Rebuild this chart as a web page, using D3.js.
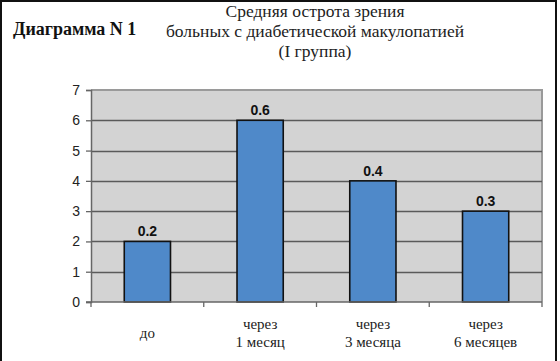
<!DOCTYPE html>
<html>
<head>
<meta charset="utf-8">
<script src="https://cdn.jsdelivr.net/npm/d3@7"></script>
<style>
  body { margin: 0; background: #fff; }
  svg { display: block; }
</style>
</head>
<body>
<div id="chart"></div>
<script>
var categories = [["до"], ["через", "1 месяц"], ["через", "3 месяца"], ["через", "6 месяцев"]];
var values = [2, 6, 4, 3];
var valueLabels = ["0.2", "0.6", "0.4", "0.3"];
var yTicks = [0, 1, 2, 3, 4, 5, 6, 7];
var titleLines = ["Средняя острота зрения", "больных с диабетической макулопатией", "(I группа)"];
var chartLabel = "Диаграмма N 1";

var SERIF = "Liberation Serif";
var SANS = "Liberation Sans";

var W = 560, H = 361;
var margin = { top: 90, right: 18, bottom: 59, left: 91 };
var width = W - margin.left - margin.right,
    height = H - margin.top - margin.bottom;

var svg = d3.select("#chart").append("svg")
    .attr("width", W)
    .attr("height", H);

// frame of the picture
svg.append("path")
    .attr("d", "M1,361 V1 H556 V361")
    .attr("fill", "none")
    .attr("stroke", "#111")
    .attr("stroke-width", 2);

svg.append("text")
    .attr("x", 13).attr("y", 35)
    .attr("font-family", SERIF)
    .attr("font-weight", "bold")
    .attr("font-size", 18)
    .attr("fill", "#111")
    .text(chartLabel);

svg.selectAll(".title")
    .data(titleLines)
    .enter().append("text")
    .attr("class", "title")
    .attr("x", 315)
    .attr("y", function (d, i) { return 17 + i * 20; })
    .attr("text-anchor", "middle")
    .attr("font-family", SERIF)
    .attr("font-size", 17.5)
    .attr("fill", "#222")
    .text(function (d) { return d; });

var g = svg.append("g").attr("transform", "translate(" + margin.left + "," + margin.top + ")");

var x = d3.scaleBand()
    .domain(d3.range(categories.length))
    .range([0, width])
    .paddingInner(0.59)
    .paddingOuter(0.295);

var y = d3.scaleLinear().domain([0, 7]).range([height, 0]);

// plot background
g.append("rect")
    .attr("width", width).attr("height", height)
    .attr("fill", "#d3d3d3");

g.append("path")
    .attr("d", "M0,0 H" + width + " V" + height)
    .attr("fill", "none")
    .attr("stroke", "#9a9a9a")
    .attr("stroke-width", 2);

// grid
g.selectAll(".grid")
    .data(yTicks.filter(function (d) { return d > 0 && d < 7; }))
    .enter().append("line")
    .attr("x1", 0).attr("x2", width)
    .attr("y1", function (d) { return Math.round(y(d)) + 0.5; })
    .attr("y2", function (d) { return Math.round(y(d)) + 0.5; })
    .attr("stroke", "#5a5a5a")
    .attr("stroke-width", 1.3);

// bars
g.selectAll(".bar")
    .data(values)
    .enter().append("rect")
    .attr("x", function (d, i) { return x(i); })
    .attr("y", function (d) { return y(d); })
    .attr("width", x.bandwidth())
    .attr("height", function (d) { return height - y(d); })
    .attr("fill", "#4f89c9")
    .attr("stroke", "#111")
    .attr("stroke-width", 1.6);

g.selectAll(".vlabel")
    .data(values)
    .enter().append("text")
    .attr("x", function (d, i) { return x(i) + x.bandwidth() / 2; })
    .attr("y", function (d) { return y(d) - 5; })
    .attr("text-anchor", "middle")
    .attr("font-family", SANS)
    .attr("font-weight", "bold")
    .attr("font-size", 14)
    .attr("fill", "#111")
    .text(function (d, i) { return valueLabels[i]; });

// y axis
var yAxis = g.append("g")
    .call(d3.axisLeft(y).tickValues(yTicks).tickSize(5).tickPadding(6).tickFormat(d3.format("d")))
    .attr("font-family", SANS)
    .attr("font-size", 14);
yAxis.select(".domain").attr("stroke", "#666").attr("stroke-width", 1.5);
yAxis.selectAll(".tick line").attr("stroke", "#666").attr("stroke-width", 1.3);
yAxis.selectAll("text").attr("fill", "#222");

// x axis
var step = width / categories.length;
var xAxis = g.append("g").attr("transform", "translate(0," + height + ")");
xAxis.append("line")
    .attr("x1", -5).attr("x2", width)
    .attr("stroke", "#666").attr("stroke-width", 1.5);
xAxis.selectAll(".xt")
    .data(d3.range(categories.length + 1))
    .enter().append("line")
    .attr("x1", function (d) { return d * step; })
    .attr("x2", function (d) { return d * step; })
    .attr("y1", 0).attr("y2", 5)
    .attr("stroke", "#666").attr("stroke-width", 1.3);

var xl = xAxis.selectAll(".xl")
    .data(categories)
    .enter().append("text")
    .attr("text-anchor", "middle")
    .attr("font-family", SERIF)
    .attr("font-size", 15)
    .attr("fill", "#222")
    .attr("transform", function (d, i) {
        return "translate(" + (x(i) + x.bandwidth() / 2) + "," + (d.length === 1 ? 36 : 27) + ")";
    });
xl.selectAll("tspan")
    .data(function (d) { return d; })
    .enter().append("tspan")
    .attr("x", 0)
    .attr("dy", function (d, i) { return i === 0 ? 0 : 18; })
    .text(function (d) { return d; });
</script>
</body>
</html>
